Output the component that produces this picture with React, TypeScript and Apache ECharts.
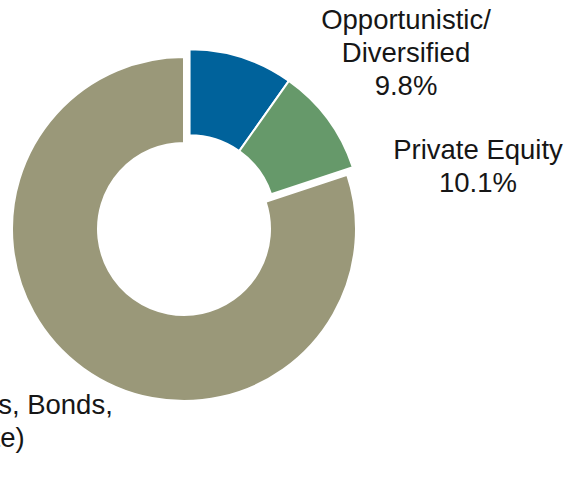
import React, { useEffect, useRef } from "react";
import * as echarts from "echarts";

// Allocation shares (percent of total)
const categories = [
  "Opportunistic/\nDiversified",
  "Private Equity",
  "Traditional (Stocks, Bonds,\nReal Estate)",
];
const shares = [9.8, 10.1, 80.1];
const colors = ["#00629b", "#66996a", "#9a9879"];
// Which slices are pulled out of the ring together
const pulledOut = [true, true, false];

// Label anchors (block centre), in px
const labelAnchors: [number, number][] = [
  [406, 52],
  [478, 166],
  [-51, 437],
];

const CX = 184;
const CY = 229;
const R_IN = 86;
const R_OUT = 172;
const PULL = 9.5;

const FONT = 'Arial, "Liberation Sans", sans-serif';

export default function App() {
  const ref = useRef<HTMLDivElement>(null);

  useEffect(() => {
    if (!ref.current) return;
    const chart = echarts.init(ref.current, null, { renderer: "svg" });

    // direction of the pulled-out group: middle of its combined arc
    const total = shares.reduce((a, b) => a + b, 0);
    const groupShare = shares.filter((_, i) => pulledOut[i]).reduce((a, b) => a + b, 0);
    const midDeg = 90 - (groupShare / total) * 360 / 2;
    const dx = PULL * Math.cos((midDeg * Math.PI) / 180);
    const dy = -PULL * Math.sin((midDeg * Math.PI) / 180);

    const makeData = (visibleWhen: boolean) =>
      categories.map((name, i) => {
        const visible = pulledOut[i] === visibleWhen;
        return {
          name,
          value: shares[i],
          itemStyle: visible
            ? { color: colors[i], borderColor: "#ffffff", borderWidth: 2 }
            : { color: "rgba(0,0,0,0)", borderWidth: 0 },
          label: { show: visible },
        };
      });

    const labelCfg = {
      position: "outside" as const,
      formatter: (p: any) => `${p.name}\n${Number(p.value).toFixed(1)}%`,
      fontFamily: FONT,
      fontSize: 27.5,
      lineHeight: 33,
      color: "#161616",
      align: "center" as const,
    };

    const layout = (params: any) => {
      const [x, y] = labelAnchors[params.dataIndex];
      return { x, y, align: "center", verticalAlign: "middle" };
    };

    const common = {
      type: "pie" as const,
      radius: [R_IN, R_OUT],
      startAngle: 90,
      clockwise: true,
      avoidLabelOverlap: false,
      label: labelCfg,
      labelLine: { show: false },
      labelLayout: layout,
      emphasis: { disabled: true },
      silent: true,
    };

    chart.setOption({
      animation: false,
      backgroundColor: "#ffffff",
      series: [
        { ...common, center: [CX, CY], data: makeData(false) },
        { ...common, center: [CX + dx, CY + dy], data: makeData(true) },
      ],
    });

    return () => chart.dispose();
  }, []);

  return (
    <div
      ref={ref}
      style={{ position: "fixed", left: 0, top: 0, width: 570, height: 483 }}
    />
  );
}
